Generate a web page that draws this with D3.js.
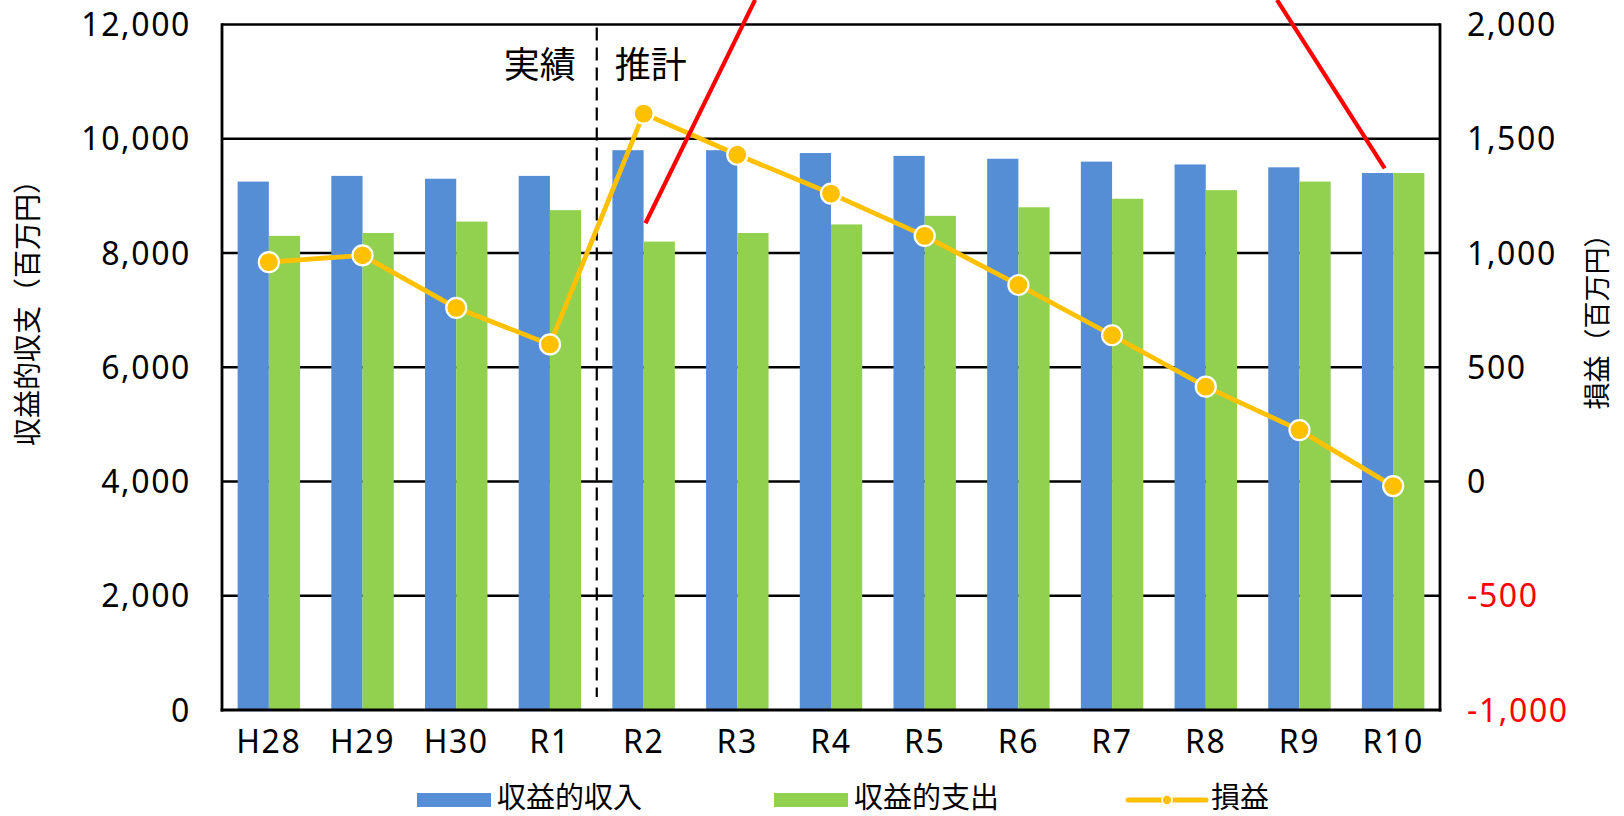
<!DOCTYPE html>
<html>
<head>
<meta charset="utf-8">
<script src="https://cdn.jsdelivr.net/npm/d3@7"></script>
<style>
  html, body { margin: 0; padding: 0; background: #fff; }
  svg { display: block; font-family: "Noto Sans CJK JP", "Noto Sans", sans-serif; }
  .num { font-family: "Noto Sans", "Noto Sans CJK JP", sans-serif; }
</style>
</head>
<body>
<svg id="chart" width="1624" height="816"></svg>
<script>
// ---- data ----
const categories = ["H28","H29","H30","R1","R2","R3","R4","R5","R6","R7","R8","R9","R10"];
const revenue  = [9250, 9350, 9300, 9350, 9800, 9800, 9750, 9700, 9650, 9600, 9550, 9500, 9400];
const expense  = [8300, 8350, 8550, 8750, 8200, 8350, 8500, 8650, 8800, 8950, 9100, 9250, 9400];
const profit   = [960, 990, 760, 600, 1610, 1430, 1260, 1075, 860, 640, 415, 225, -20];
const leftTicks  = [0, 2000, 4000, 6000, 8000, 10000, 12000];
const rightTicks = [-1000, -500, 0, 500, 1000, 1500, 2000];
const seriesNames = ["収益的収入", "収益的支出", "損益"];
const leftTitle = "収益的収支（百万円）";
const rightTitle = "損益（百万円）";
const periodLabels = ["実績", "推計"];
// annotation red lines: [category, fraction within band, left-axis value]
const redLines = [
  [["R2", 0.52, 8520], ["R3", 0.69, 12430]],
  [["R9", 0.26, 12430], ["R10", 0.41, 9480]]
];

// ---- layout ----
const L = 222, R = 1440, T = 24.5, B = 710;
const colBlue = "#558ED5", colGreen = "#92D050", colLine = "#FFC000";
const fmt = d => d3.format(",")(d).replace("\u2212", "-");

const svg = d3.select("#chart");
const x = d3.scaleBand().domain(categories).range([L, R]).padding(0);
const yL = d3.scaleLinear().domain([0, 12000]).range([B, T]);
const yR = d3.scaleLinear().domain([-1000, 2000]).range([B, T]);
const bw = x.bandwidth() / 3;
const cx = c => x(c) + x.bandwidth() / 2;

// gridlines
svg.append("g").selectAll("line").data(leftTicks.filter(d => d > 0)).join("line")
  .attr("x1", L).attr("x2", R)
  .attr("y1", d => yL(d)).attr("y2", d => yL(d))
  .attr("stroke", "#000").attr("stroke-width", 2.6);

// bars
svg.append("g").selectAll("rect").data(categories).join("rect")
  .attr("x", c => cx(c) - bw).attr("width", bw)
  .attr("y", (c, i) => yL(revenue[i])).attr("height", (c, i) => B - yL(revenue[i]))
  .attr("fill", colBlue);
svg.append("g").selectAll("rect").data(categories).join("rect")
  .attr("x", c => cx(c)).attr("width", bw)
  .attr("y", (c, i) => yL(expense[i])).attr("height", (c, i) => B - yL(expense[i]))
  .attr("fill", colGreen);

// axes lines
const axisG = svg.append("g").attr("stroke", "#000").attr("stroke-width", 2.8);
axisG.append("line").attr("x1", L).attr("x2", L).attr("y1", T - 1.3).attr("y2", B + 1.5);
axisG.append("line").attr("x1", R).attr("x2", R).attr("y1", T - 1.3).attr("y2", B + 1.5);
axisG.append("line").attr("x1", L - 1.4).attr("x2", R + 1.4).attr("y1", B).attr("y2", B).attr("stroke-width", 3.2);

// left tick labels
svg.append("g").selectAll("text").data(leftTicks).join("text")
  .attr("class", "num")
  .attr("x", 191).attr("y", d => yL(d)).attr("dy", "0.36em")
  .attr("text-anchor", "end").attr("font-size", 32).attr("letter-spacing", 1.6)
  .attr("fill", "#000").text(fmt);

// right tick labels
svg.append("g").selectAll("text").data(rightTicks).join("text")
  .attr("class", "num")
  .attr("x", 1467).attr("y", d => yR(d)).attr("dy", "0.36em")
  .attr("text-anchor", "start").attr("font-size", 32).attr("letter-spacing", 1.6)
  .attr("fill", d => d < 0 ? "#FF0000" : "#000").text(fmt);

// category labels
svg.append("g").selectAll("text").data(categories).join("text")
  .attr("class", "num")
  .attr("x", c => cx(c)).attr("y", 741).attr("dy", "0.36em")
  .attr("text-anchor", "middle").attr("font-size", 32).attr("letter-spacing", 1.6)
  .attr("fill", "#000").text(c => c);

// axis titles
svg.append("text").attr("transform", `translate(28,306) rotate(-90)`)
  .attr("text-anchor", "middle").attr("dy", "0.36em").attr("font-size", 28).text(leftTitle);
svg.append("text").attr("transform", `translate(1597,315) rotate(-90)`)
  .attr("text-anchor", "middle").attr("dy", "0.36em").attr("font-size", 27).text(rightTitle);

// dashed separator between R1 and R2
const sepX = x("R2");
svg.append("line").attr("x1", sepX).attr("x2", sepX).attr("y1", T + 3).attr("y2", B - 13)
  .attr("stroke", "#000").attr("stroke-width", 2.2).attr("stroke-dasharray", "13,7");
svg.append("text").attr("x", sepX - 21).attr("y", 65).attr("dy", "0.36em")
  .attr("text-anchor", "end").attr("font-size", 36).text(periodLabels[0]);
svg.append("text").attr("x", sepX + 18).attr("y", 65).attr("dy", "0.36em")
  .attr("text-anchor", "start").attr("font-size", 36).text(periodLabels[1]);

// profit line
const line = d3.line().x((d, i) => cx(categories[i])).y(d => yR(d));
svg.append("path").datum(profit).attr("d", line)
  .attr("fill", "none").attr("stroke", colLine).attr("stroke-width", 4.8).attr("stroke-linejoin", "round");
svg.append("g").selectAll("circle").data(profit).join("circle")
  .attr("cx", (d, i) => cx(categories[i])).attr("cy", d => yR(d)).attr("r", 10)
  .attr("fill", colLine).attr("stroke", "#fff").attr("stroke-width", 2.2);

// red annotation lines
const px = p => x(p[0]) + p[1] * x.bandwidth();
svg.append("g").selectAll("line").data(redLines).join("line")
  .attr("x1", d => px(d[0])).attr("y1", d => yL(d[0][2]))
  .attr("x2", d => px(d[1])).attr("y2", d => yL(d[1][2]))
  .attr("stroke", "#FF0000").attr("stroke-width", 4.2);

// legend
const lg = svg.append("g");
const legY = 800, legTextY = 797.5;
lg.append("rect").attr("x", 417).attr("y", legY - 7).attr("width", 74).attr("height", 14).attr("fill", colBlue);
lg.append("text").attr("x", 497).attr("y", legTextY).attr("dy", "0.36em").attr("font-size", 29).text(seriesNames[0]);
lg.append("rect").attr("x", 774).attr("y", legY - 7).attr("width", 74).attr("height", 14).attr("fill", colGreen);
lg.append("text").attr("x", 854).attr("y", legTextY).attr("dy", "0.36em").attr("font-size", 29).text(seriesNames[1]);
lg.append("line").attr("x1", 1128).attr("x2", 1206).attr("y1", legY).attr("y2", legY)
  .attr("stroke", colLine).attr("stroke-width", 5).attr("stroke-linecap", "round");
lg.append("circle").attr("cx", 1167).attr("cy", legY).attr("r", 5).attr("fill", colLine).attr("stroke", "#fff").attr("stroke-width", 1.5);
lg.append("text").attr("x", 1211).attr("y", legTextY).attr("dy", "0.36em").attr("font-size", 29).text(seriesNames[2]);
</script>
</body>
</html>
